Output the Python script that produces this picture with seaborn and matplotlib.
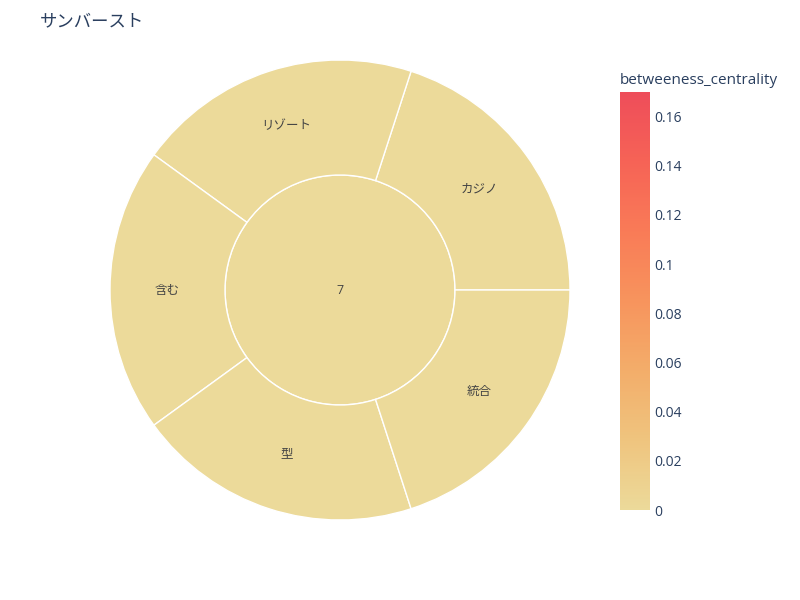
import numpy as np
import matplotlib
matplotlib.use("Agg")
import matplotlib.pyplot as plt
import seaborn as sns
from matplotlib.cm import ScalarMappable
from matplotlib.colors import Normalize

# ---- data ----
root_label = "7"
root_centrality = 0.0
labels = ["カジノ", "リゾート", "含む", "型", "統合"]
sizes = [1, 1, 1, 1, 1]
centrality = [0.0, 0.0, 0.0, 0.0, 0.0]
cmin, cmax = 0.0, 0.17
cbar_ticks = [0, 0.02, 0.04, 0.06, 0.08, 0.1, 0.12, 0.14, 0.16]
cbar_title = "betweeness_centrality"
title = "サンバースト"
oryel = ["#ecda9a", "#efc47e", "#f3ad6a", "#f7945d", "#f97b57", "#f66356", "#ee4d5a"]

sns.set_theme(style="white")
plt.rcParams['font.family'] = ['Open Sans', 'Noto Sans CJK JP', 'DejaVu Sans']

cmap = sns.blend_palette(oryel, as_cmap=True)
norm = Normalize(vmin=cmin, vmax=cmax)

fig = plt.figure(figsize=(8, 6), dpi=100)
ax = fig.add_axes([110 / 800, 80 / 600, 460 / 800, 460 / 600])
ax.set_xlim(-1, 1)
ax.set_ylim(-1, 1)
ax.set_aspect("equal")
ax.axis("off")

# inner (root)
ax.pie([1], radius=0.5, colors=[cmap(norm(root_centrality))],
       wedgeprops=dict(edgecolor="white", linewidth=1),
       startangle=0, counterclock=True)
ax.text(0, 0, root_label, ha="center", va="center", fontsize=9, color="#444444")

# outer ring
wedges, _ = ax.pie(sizes, radius=1.0, colors=[cmap(norm(c)) for c in centrality],
                   wedgeprops=dict(width=0.5, edgecolor="white", linewidth=1),
                   startangle=0, counterclock=True)
for w, lab in zip(wedges, labels):
    ang = np.deg2rad((w.theta1 + w.theta2) / 2)
    ax.text(0.75 * np.cos(ang), 0.75 * np.sin(ang), lab, ha="center", va="center",
            fontsize=9, color="#444444")
ax.set_xlim(-1, 1)
ax.set_ylim(-1, 1)

# colorbar
cax = fig.add_axes([620 / 800, 90 / 600, 30 / 800, 418 / 600])
cb = fig.colorbar(ScalarMappable(norm=norm, cmap=cmap), cax=cax)
cb.outline.set_visible(False)
cb.set_ticks(cbar_ticks)
cb.set_ticklabels([f"{t:g}" for t in cbar_ticks])
cax.tick_params(length=0, labelsize=10, labelcolor="#2a3f5f", pad=3)
fig.text(620 / 800, 1 - 80 / 600, cbar_title, ha="left", va="center",
         fontsize=11, color="#2a3f5f")

fig.text(40 / 800, 1 - 22 / 600, title, ha="left", va="center",
         fontsize=12.5, color="#2a3f5f")

fig.savefig("out.png", dpi=100)
